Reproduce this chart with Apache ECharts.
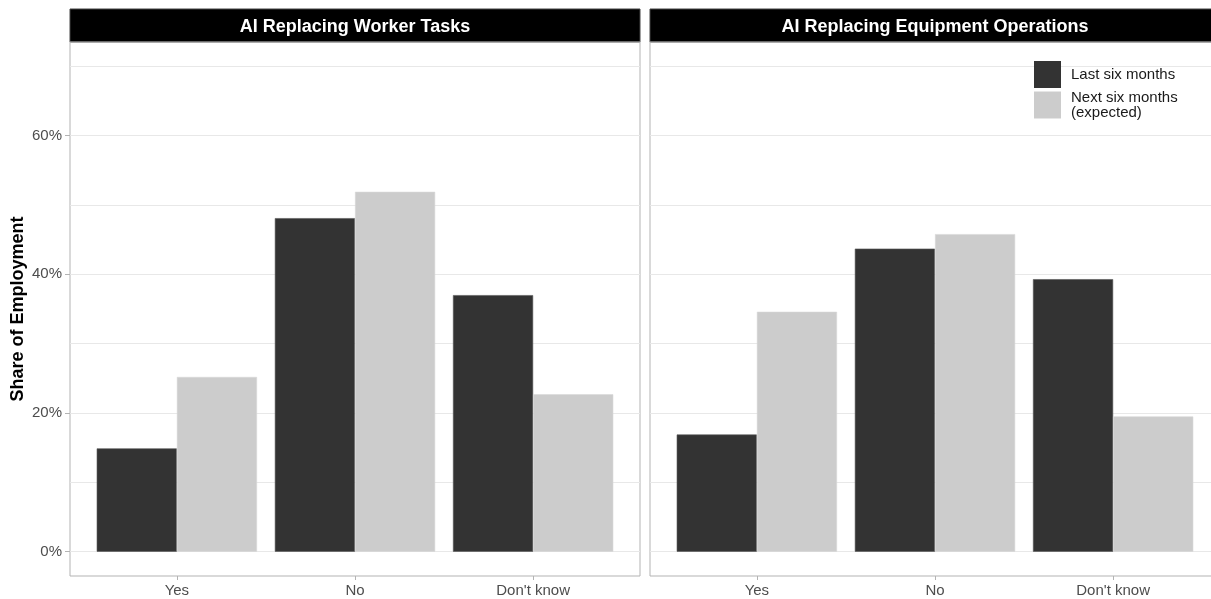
<!DOCTYPE html>
<html><head><meta charset="utf-8">
<script src="https://cdn.jsdelivr.net/npm/echarts@6/dist/echarts.min.js"></script>
<style>html,body{margin:0;padding:0;background:#fff}#c{width:1211px;height:599px}</style>
</head><body><div id="c"></div>
<script>
const categories = ["Yes", "No", "Don't know"];
const panelTitles = ["AI Replacing Worker Tasks", "AI Replacing Equipment Operations"];
const seriesNames = ["Last six months", "Next six months\n(expected)"];
const workerLast = [14.9, 48.1, 37.0];
const workerNext = [25.2, 51.9, 22.7];
const equipLast = [16.9, 43.7, 39.3];
const equipNext = [34.6, 45.8, 19.5];
const yTicks = [0, 20, 40, 60];
const yMinorTicks = [10, 30, 50, 70];
const Y_MIN = -3.5, Y_MAX = 73.5;

const panelData = [[workerLast, workerNext], [equipLast, equipNext]];
const panelLefts = [70, 650];
const PW = 570, PTOP = 42, PH = 534, STOP = 9, SH = 33;
const unit = PW / 3.2;
const colors = ['#333333', '#cccccc'];
const FONT = 'Liberation Sans, Arial, sans-serif';

const grid = [], xAxis = [], yAxis = [], series = [], title = [];
panelLefts.forEach((L, p) => {
  const gStrip = grid.length;
  grid.push({left: L, top: STOP, width: PW, height: SH, show: true, backgroundColor: '#000', borderColor: '#444', borderWidth: 1, outerBoundsMode: 'none'});
  xAxis.push({type: 'value', gridIndex: gStrip, show: false, min: 0, max: 1});
  yAxis.push({type: 'value', gridIndex: gStrip, show: false, min: 0, max: 1});
  const gOuter = grid.length;
  grid.push({left: L, top: PTOP, width: PW, height: PH, show: true, backgroundColor: 'transparent', borderColor: '#b3b3b3', borderWidth: 1, outerBoundsMode: 'none'});
  xAxis.push({type: 'value', gridIndex: gOuter, show: false, min: 0, max: 1});
  yAxis.push({
    type: 'value', gridIndex: gOuter, min: Y_MIN, max: Y_MAX,
    axisLine: {show: false, onZero: false}, splitLine: {show: false},
    axisTick: {show: p === 0, length: 5, lineStyle: {color: '#b3b3b3'}, customValues: yTicks},
    axisLabel: {show: p === 0, customValues: yTicks, formatter: v => v + '%', color: '#4d4d4d', fontSize: 15, margin: 8, fontFamily: FONT},
    name: p === 0 ? 'Share of Employment' : '', nameLocation: 'middle', nameGap: 43,
    nameTextStyle: {fontWeight: 'bold', fontSize: 18, color: '#000', fontFamily: FONT}
  });
  const gData = grid.length;
  grid.push({left: L + 0.1 * unit, top: PTOP, width: 3 * unit, height: PH, outerBoundsMode: 'none'});
  xAxis.push({
    type: 'category', gridIndex: gData, data: categories,
    axisLine: {show: false, onZero: false},
    axisTick: {show: true, alignWithLabel: true, length: 4, lineStyle: {color: '#b3b3b3'}},
    axisLabel: {color: '#4d4d4d', fontSize: 15, margin: 7, fontFamily: FONT}
  });
  yAxis.push({type: 'value', gridIndex: gData, show: false, min: Y_MIN, max: Y_MAX});

  series.push({
    type: 'line', xAxisIndex: gOuter, yAxisIndex: gOuter, data: [], silent: true, z: 1,
    markLine: {
      silent: true, z: 1, symbol: ['none', 'none'], label: {show: false}, animation: false,
      lineStyle: {color: '#e8e8e8', type: 'solid', width: 1},
      data: yTicks.concat(yMinorTicks).map(v => ({yAxis: v}))
    }
  });
  panelData[p].forEach((vals, s) => {
    series.push({
      type: 'bar', name: seriesNames[s], xAxisIndex: gData, yAxisIndex: gData,
      data: vals, barWidth: '45%', barGap: '0%', z: 3,
      itemStyle: {color: colors[s], borderColor: s === 0 ? '#555' : '#d6d6d6', borderWidth: 0.6},
      emphasis: {disabled: true}
    });
  });
  title.push({
    text: panelTitles[p], left: L + PW / 2, top: STOP + SH / 2 + 1.5, padding: 0,
    textAlign: 'center', textVerticalAlign: 'middle',
    textStyle: {color: '#fff', fontWeight: 'bold', fontSize: 18, fontFamily: FONT}
  });
});

const chart = echarts.init(document.getElementById('c'), null, {renderer: 'canvas'});
chart.setOption({
  animation: false,
  backgroundColor: '#fff',
  title, grid, xAxis, yAxis, series,
  legend: {
    data: seriesNames, orient: 'vertical', left: 1034, top: 61, padding: 0,
    itemWidth: 27, itemHeight: 27, itemGap: 2, icon: 'rect', selectedMode: false,
    itemStyle: {borderWidth: 0},
    textStyle: {fontSize: 15, color: '#1a1a1a', lineHeight: 15, padding: [0, 0, 0, 5], fontFamily: FONT}
  }
});
</script></body></html>
